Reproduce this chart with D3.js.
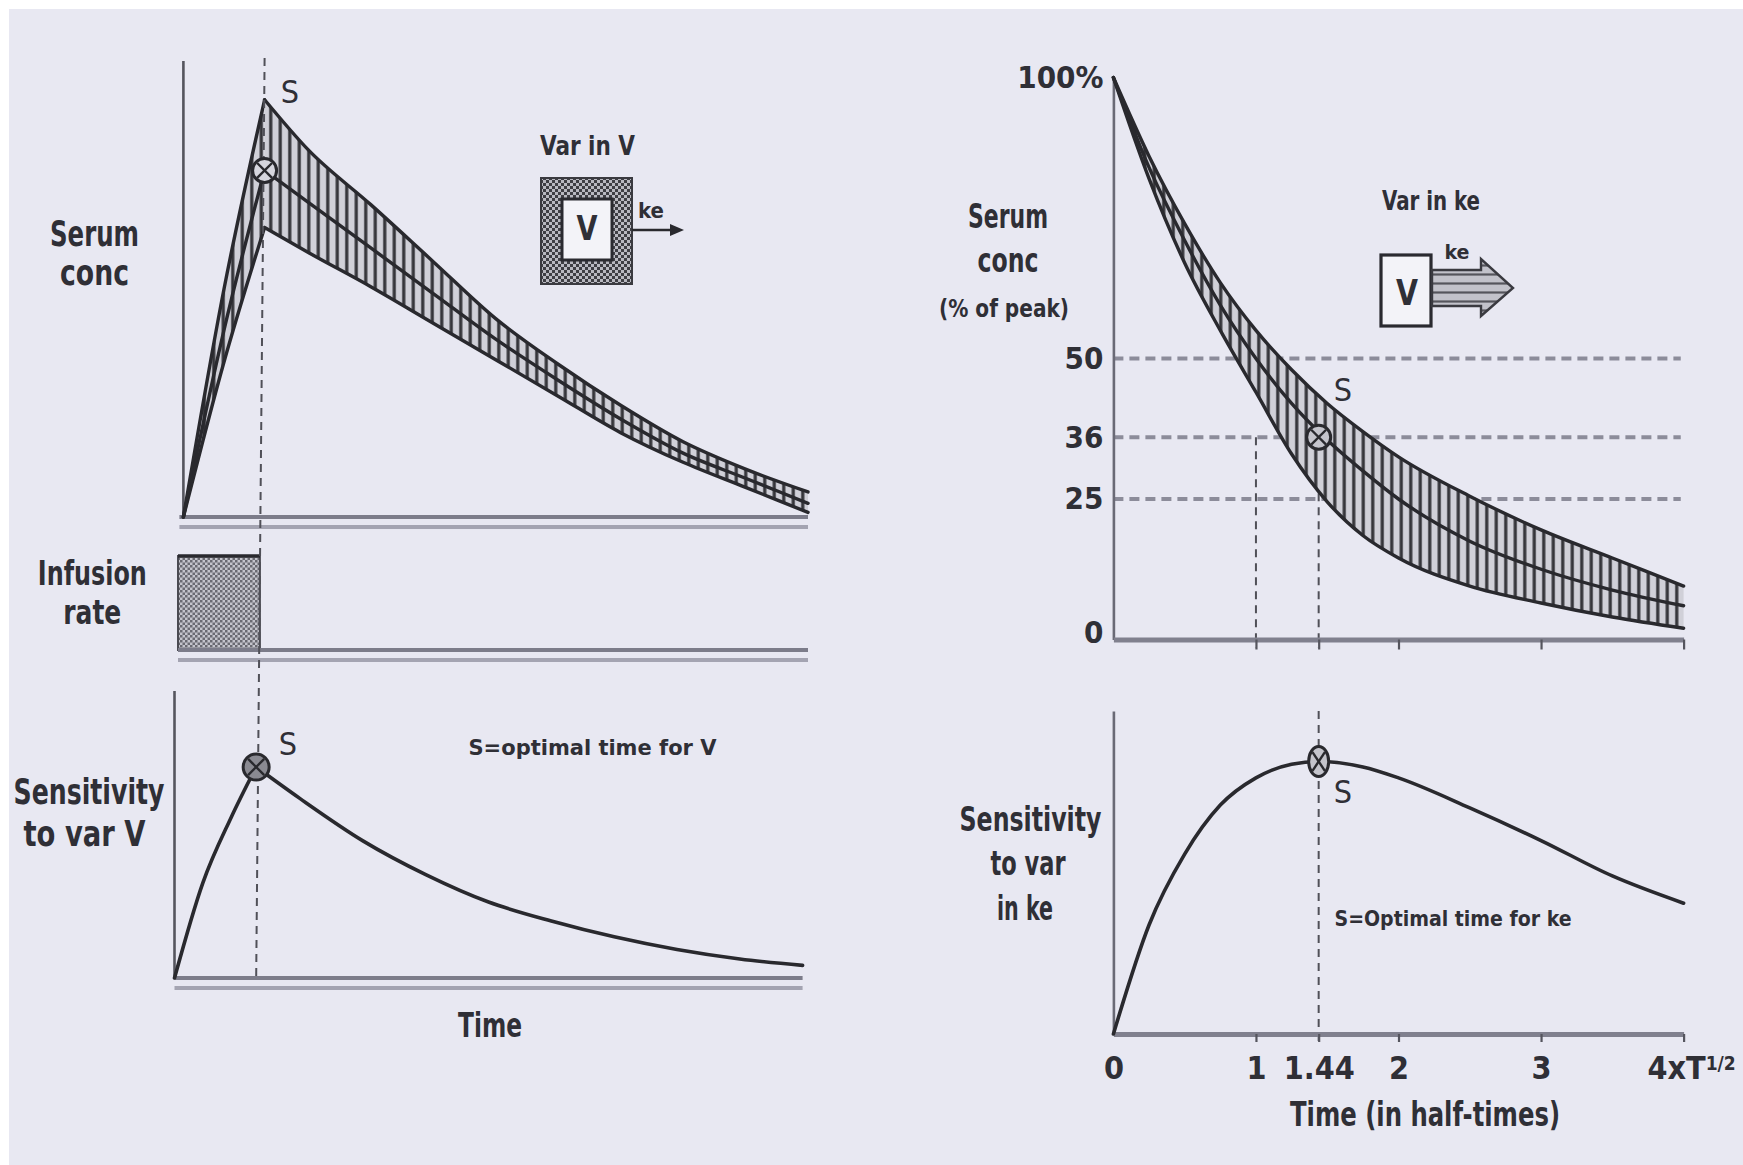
<!DOCTYPE html>
<html>
<head>
<meta charset="utf-8">
<script src="https://cdn.jsdelivr.net/npm/d3@7/dist/d3.min.js"></script>
<style>
  html, body { margin: 0; padding: 0; background: #ffffff; }
  svg { display: block; }
  text {
    font-family: 'Liberation Sans Narrow', 'DejaVu Sans Condensed', 'Arial Narrow', 'Liberation Sans', Arial, sans-serif;
    font-weight: bold;
    fill: #2f2f36;
  }
</style>
</head>
<body>
<svg id="fig" width="1743" height="1165"></svg>
<script>
// ---------------- data ----------------
// Left: constant-rate infusion, then decay (arbitrary time units 0..10)
const infusionTimes = [0, 1.3];
const infusionRate  = [1, 1];

const riseTimes   = [0, 0.65, 1.3];
const riseUpper   = [0, 50, 91.5];
const riseMiddle  = [0, 41, 76];
const riseLower   = [0, 34, 63.5];

const decayTimes  = [1.3, 2, 3, 4, 5, 6, 7, 8, 9, 10];
const decayUpper  = [91.5, 80.5, 68.5, 56, 43.5, 33.5, 24.5, 16.5, 10.5, 5.5];
const decayMiddle = [76, 69, 59, 49, 39, 30, 21.5, 14, 8.5, 3];
const decayLower  = [63.5, 58, 50.5, 42.5, 34.5, 26.5, 18.5, 12, 6.5, 1];

const sensVRiseTimes  = [0, 0.45, 0.9, 1.3];
const sensVRise       = [0, 45, 76, 100];
const sensVDecayTimes = [1.3, 2, 3, 4, 5, 6, 7, 8, 9, 10];
const sensVDecay      = [100, 85, 65, 49, 36, 27, 19.5, 13.5, 9, 6];
const optimalTimeV    = 1.3;

// Right: decay after a bolus, time in half-times, conc in % of peak
const halfTimes  = [0, 0.25, 0.5, 0.75, 1, 1.25, 1.5, 1.75, 2, 2.5, 3, 3.5, 4];
const concUpper  = [100, 86, 74, 63.5, 55, 48, 42, 37, 32.5, 25.5, 19.5, 14.5, 9.5];
const concMiddle = [100, 84, 71, 59.5, 50, 42, 35.5, 30, 25, 17.5, 12.5, 8.8, 6];
const concLower  = [100, 82, 67, 55, 44, 33, 24.5, 18.5, 14.5, 9.5, 6.5, 4, 2];

const sensKeTimes = [0, 0.25, 0.5, 0.75, 1, 1.25, 1.44, 1.75, 2, 2.5, 3, 3.5, 4];
const sensKe      = [0, 40, 66, 84, 94, 99, 100, 98, 94, 83, 71, 58, 48];

const concRefLevels = [50, 36, 25];
const concTickLabels = [0, 25, 36, 50, 100];
const timeTickValues = [0, 1, 1.44, 2, 3, 4];
const optimalTimeKe = 1.44;

// ---------------- setup ----------------
const svg = d3.select("#fig");
svg.append("rect").attr("width", 1743).attr("height", 1165).attr("fill", "#ffffff");
svg.append("rect").attr("x", 9).attr("y", 9).attr("width", 1734).attr("height", 1156).attr("fill", "#e8e8f2");

const defs = svg.append("defs");
// vertical hatch for the concentration bands
const hv = defs.append("pattern").attr("id", "hatchV").attr("patternUnits", "userSpaceOnUse")
  .attr("width", 9.5).attr("height", 10);
hv.append("rect").attr("width", 9.5).attr("height", 10).attr("fill", "#d0d0d8");
hv.append("line").attr("x1", 4.75).attr("x2", 4.75).attr("y1", 0).attr("y2", 10)
  .attr("stroke", "#35353a").attr("stroke-width", 3.2);
// coarse checker for the "Var in V" compartment wall
const cb = defs.append("pattern").attr("id", "checkBox").attr("patternUnits", "userSpaceOnUse")
  .attr("width", 6).attr("height", 6);
cb.append("rect").attr("width", 6).attr("height", 6).attr("fill", "#b8b8c0");
cb.append("rect").attr("width", 3).attr("height", 3).attr("fill", "#3e3e44");
cb.append("rect").attr("x", 3).attr("y", 3).attr("width", 3).attr("height", 3).attr("fill", "#3e3e44");
// fine checker for the infusion block
const ci = defs.append("pattern").attr("id", "checkInf").attr("patternUnits", "userSpaceOnUse")
  .attr("width", 5).attr("height", 5);
ci.append("rect").attr("width", 5).attr("height", 5).attr("fill", "#c4c4cc");
ci.append("rect").attr("width", 2.5).attr("height", 2.5).attr("fill", "#6a6a72");
ci.append("rect").attr("x", 2.5).attr("y", 2.5).attr("width", 2.5).attr("height", 2.5).attr("fill", "#6a6a72");
// horizontal stripes for the elimination arrow
const al = defs.append("pattern").attr("id", "arrowLines").attr("patternUnits", "userSpaceOnUse")
  .attr("width", 8).attr("height", 9);
al.append("rect").attr("width", 8).attr("height", 9).attr("fill", "#c2c2ca");
al.append("line").attr("x1", 0).attr("x2", 8).attr("y1", 4.5).attr("y2", 4.5)
  .attr("stroke", "#55555c").attr("stroke-width", 2.2);

const INK = "#29292e";

function label(txt, x, y, size, width, opts = {}) {
  const t = svg.append("text").attr("x", x).attr("y", y)
    .attr("text-anchor", opts.anchor || "middle")
    .attr("font-size", size).text(txt);
  if (width) t.attr("textLength", width).attr("lengthAdjust", "spacingAndGlyphs");
  if (opts.weight) t.style("font-weight", opts.weight);
  return t;
}

function otimes(cx, cy, rx, ry, fill) {
  const g = svg.append("g");
  g.append("ellipse").attr("cx", cx).attr("cy", cy).attr("rx", rx).attr("ry", ry)
    .attr("fill", fill).attr("stroke", INK).attr("stroke-width", 3);
  const dx = rx * 0.62, dy = ry * 0.62;
  g.append("line").attr("x1", cx - dx).attr("y1", cy - dy).attr("x2", cx + dx).attr("y2", cy + dy)
    .attr("stroke", INK).attr("stroke-width", 2.4);
  g.append("line").attr("x1", cx - dx).attr("y1", cy + dy).attr("x2", cx + dx).attr("y2", cy - dy)
    .attr("stroke", INK).attr("stroke-width", 2.4);
}

function band(times, lo, mid, hi, x, y) {
  const pts = times.map((t, i) => ({ t, lo: lo[i], mid: mid[i], hi: hi[i] }));
  const curve = d3.curveMonotoneX;
  svg.append("path").datum(pts)
    .attr("d", d3.area().x(d => x(d.t)).y0(d => y(d.lo)).y1(d => y(d.hi)).curve(curve))
    .attr("fill", "url(#hatchV)");
  ["lo", "mid", "hi"].forEach(k => {
    svg.append("path").datum(pts)
      .attr("d", d3.line().x(d => x(d.t)).y(d => y(d[k])).curve(curve))
      .attr("fill", "none").attr("stroke", INK).attr("stroke-width", 3.4)
      .attr("stroke-linejoin", "round").attr("stroke-linecap", "round");
  });
}

function curveLine(times, vals, x, y) {
  const pts = times.map((t, i) => ({ t, v: vals[i] }));
  svg.append("path").datum(pts)
    .attr("d", d3.line().x(d => x(d.t)).y(d => y(d.v)).curve(d3.curveMonotoneX))
    .attr("fill", "none").attr("stroke", INK).attr("stroke-width", 3.6)
    .attr("stroke-linecap", "round");
}

// left-panel baseline: dark rule with a paler rule just beneath it
function baseRule(x0, x1, y) {
  svg.append("line").attr("x1", x0).attr("x2", x1).attr("y1", y + 10).attr("y2", y + 10)
    .attr("stroke", "#a4a4b2").attr("stroke-width", 4);
  svg.append("line").attr("x1", x0).attr("x2", x1).attr("y1", y).attr("y2", y)
    .attr("stroke", "#7c7c8a").attr("stroke-width", 4);
}

// ---------------- left column ----------------
const xLT = d3.scaleLinear().domain([0, 10]).range([183.4, 808]);
const yLT = d3.scaleLinear().domain([0, 100]).range([517, 61]);
const xLI = d3.scaleLinear().domain([0, 10]).range([178, 808]);
const yLI = d3.scaleLinear().domain([0, 1]).range([650, 556]);
const xLS = d3.scaleLinear().domain([0, 10]).range([174.5, 802.6]);
const yLS = d3.scaleLinear().domain([0, 100]).range([978, 767]);

// serum concentration panel
svg.append("line").attr("x1", xLT(0)).attr("x2", xLT(0)).attr("y1", 61).attr("y2", yLT(0))
  .attr("stroke", "#55555e").attr("stroke-width", 2.6);
baseRule(xLT(0) - 4, xLT(10), yLT(0));
band(riseTimes, riseLower, riseMiddle, riseUpper, xLT, yLT);
band(decayTimes, decayLower, decayMiddle, decayUpper, xLT, yLT);

// infusion panel
svg.append("rect")
  .attr("x", xLI(infusionTimes[0])).attr("y", yLI(infusionRate[0]))
  .attr("width", xLI(infusionTimes[1]) - xLI(infusionTimes[0]))
  .attr("height", yLI(0) - yLI(infusionRate[0]))
  .attr("fill", "url(#checkInf)").attr("stroke", "#4a4a52").attr("stroke-width", 2);
svg.append("line").attr("x1", xLI(0)).attr("x2", xLI(1.3)).attr("y1", yLI(1)).attr("y2", yLI(1))
  .attr("stroke", INK).attr("stroke-width", 3.5);
baseRule(xLI(0), xLI(10), yLI(0));

// sensitivity-to-V panel
svg.append("line").attr("x1", xLS(0)).attr("x2", xLS(0)).attr("y1", 691).attr("y2", yLS(0))
  .attr("stroke", "#55555e").attr("stroke-width", 2.6);
baseRule(xLS(0), xLS(10), yLS(0));
curveLine(sensVRiseTimes, sensVRise, xLS, yLS);
curveLine(sensVDecayTimes, sensVDecay, xLS, yLS);

// optimal sampling time for V, dropped through all three panels
svg.append("line")
  .attr("x1", xLT(optimalTimeV)).attr("y1", 58)
  .attr("x2", xLS(optimalTimeV)).attr("y2", yLS(0) + 2)
  .attr("stroke", "#505058").attr("stroke-width", 2).attr("stroke-dasharray", "8,6");

otimes(xLT(optimalTimeV), yLT(decayMiddle[0]), 12, 12, "#d6d6de");
otimes(xLS(optimalTimeV), yLS(100), 13, 13, "#8a8a92");

label("S", 290, 103, 32, null, { weight: "normal" });
label("S", 288, 755, 32, null, { weight: "normal" });

// "Var in V" compartment icon
label("Var in V", 587.5, 155, 26, 95);
svg.append("rect").attr("x", 541).attr("y", 178).attr("width", 91).attr("height", 106)
  .attr("fill", "url(#checkBox)").attr("stroke", "#3a3a40").attr("stroke-width", 2);
svg.append("rect").attr("x", 562).attr("y", 199).attr("width", 50).attr("height", 61)
  .attr("fill", "#f3f3f8").attr("stroke", "#2a2a30").attr("stroke-width", 3);
label("V", 587, 240, 34, 21);
svg.append("line").attr("x1", 632).attr("x2", 672).attr("y1", 230).attr("y2", 230)
  .attr("stroke", INK).attr("stroke-width", 2.5);
svg.append("path").attr("d", "M670,224 L684,230 L670,236 Z").attr("fill", INK);
label("ke", 651, 218, 21, 26);

label("Serum", 94.5, 246, 36, 89);
label("conc", 94.5, 285, 36, 69);
label("Infusion", 92.3, 585, 34, 109);
label("rate", 92.3, 624, 34, 58);
label("Sensitivity", 89, 804, 35, 151);
label("to var V", 84.5, 846, 35, 122);
label("Time", 490, 1037, 34, 64);
label("S=optimal time for V", 592.5, 755, 22, 248);

// ---------------- right column ----------------
const xR  = d3.scaleLinear().domain([0, 4]).range([1113.4, 1683.6]);
const yRT = d3.scaleLinear().domain([0, 100]).range([639.5, 77.5]);
const yRS = d3.scaleLinear().domain([0, 100]).range([1034, 761.5]);

// reference levels 50 / 36 / 25 %
concRefLevels.forEach(v => {
  svg.append("line").attr("x1", xR(0)).attr("x2", xR(3.98)).attr("y1", yRT(v)).attr("y2", yRT(v))
    .attr("stroke", "#8c8c9a").attr("stroke-width", 4).attr("stroke-dasharray", "10,6");
});
// drop lines at 1 and 1.44 half-times
[1, optimalTimeKe].forEach(t => {
  svg.append("line").attr("x1", xR(t)).attr("x2", xR(t)).attr("y1", yRT(36)).attr("y2", yRT(0) + 8)
    .attr("stroke", "#505058").attr("stroke-width", 2).attr("stroke-dasharray", "8,6");
});
svg.append("line").attr("x1", xR(optimalTimeKe)).attr("x2", xR(optimalTimeKe))
  .attr("y1", 711).attr("y2", yRS(0) + 8)
  .attr("stroke", "#505058").attr("stroke-width", 2).attr("stroke-dasharray", "8,6");

// concentration axes
const yAxisRT = svg.append("g").attr("transform", `translate(${xR(0)},0)`)
  .call(d3.axisLeft(yRT).tickValues(concTickLabels)
    .tickFormat(d => d === 100 ? "100%" : d).tickSize(0).tickPadding(10));
yAxisRT.select(".domain").attr("stroke", "#6a6a76").attr("stroke-width", 2.6);
yAxisRT.selectAll("text").style("font-size", "31px").style("font-family", null).attr("fill", "#2f2f36");
yAxisRT.selectAll(".tick").filter(d => d === 0).select("text").attr("dy", "0.1em");

const xAxisRT = svg.append("g").attr("transform", `translate(0,${yRT(0)})`)
  .call(d3.axisBottom(xR).tickValues([1, 1.44, 2, 3, 4]).tickFormat("").tickSizeInner(10).tickSizeOuter(0));
xAxisRT.select(".domain").attr("stroke", "#80808e").attr("stroke-width", 5);
xAxisRT.selectAll("line").attr("stroke", "#55555e").attr("stroke-width", 2.2);

band(halfTimes, concLower, concMiddle, concUpper, xR, yRT);
otimes(xR(optimalTimeKe), yRT(36), 12, 12, "#c4c4cc");
label("S", 1343, 401, 32, null, { weight: "normal" });

// sensitivity-to-ke axes
const yAxisRS = svg.append("g").attr("transform", `translate(${xR(0)},0)`)
  .call(d3.axisLeft(d3.scaleLinear().domain([0, 1]).range([yRS(0), 711])).tickValues([]).tickSizeOuter(0));
yAxisRS.select(".domain").attr("stroke", "#6a6a76").attr("stroke-width", 2.6);

const xAxisRS = svg.append("g").attr("transform", `translate(0,${yRS(0)})`)
  .call(d3.axisBottom(xR).tickValues(timeTickValues)
    .tickFormat(d => d).tickSizeInner(8).tickSizeOuter(0).tickPadding(14));
xAxisRS.select(".domain").attr("stroke", "#80808e").attr("stroke-width", 5);
xAxisRS.selectAll("line").attr("stroke", "#55555e").attr("stroke-width", 2.2);
xAxisRS.selectAll(".tick").filter(d => d === 0).select("line").remove();
xAxisRS.selectAll("text").style("font-size", "32px").style("font-family", null).attr("fill", "#2f2f36");
const lastTick = xAxisRS.selectAll(".tick").filter(d => d === 4).select("text");
lastTick.text(null).attr("text-anchor", "start").attr("x", 1647 - xR(4));
lastTick.append("tspan").text("4xT");
lastTick.append("tspan").attr("dy", "-0.45em").style("font-size", "19px").text("1/2");

curveLine(sensKeTimes, sensKe, xR, yRS);
otimes(xR(optimalTimeKe), yRS(100), 10, 15, "#c4c4cc");
label("S", 1343, 803, 32, null, { weight: "normal" });

// "Var in ke" compartment icon
label("Var in ke", 1431, 210, 26, 98);
svg.append("rect").attr("x", 1381).attr("y", 255).attr("width", 50).attr("height", 71)
  .attr("fill", "#f3f3f8").attr("stroke", "#2a2a30").attr("stroke-width", 3.2);
label("V", 1407, 305, 36, 22);
svg.append("path")
  .attr("d", "M1432,270 L1481,270 L1481,259 L1513,288 L1481,316 L1481,306 L1432,306 Z")
  .attr("fill", "url(#arrowLines)").attr("stroke", "#3a3a40").attr("stroke-width", 2.4)
  .attr("stroke-linejoin", "miter");
label("ke", 1457, 259, 20, 25);

label("Serum", 1008, 228, 33, 80);
label("conc", 1008, 272, 33, 61);
label("(% of peak)", 1004, 317, 24, 130);
label("Sensitivity", 1030.5, 831, 34, 142);
label("to var", 1028, 875, 34, 75);
label("in ke", 1025, 920, 34, 56);
label("S=Optimal time for ke", 1453, 926, 22, 237);
label("Time (in half-times)", 1425, 1126, 33, 270);
</script>
</body>
</html>
